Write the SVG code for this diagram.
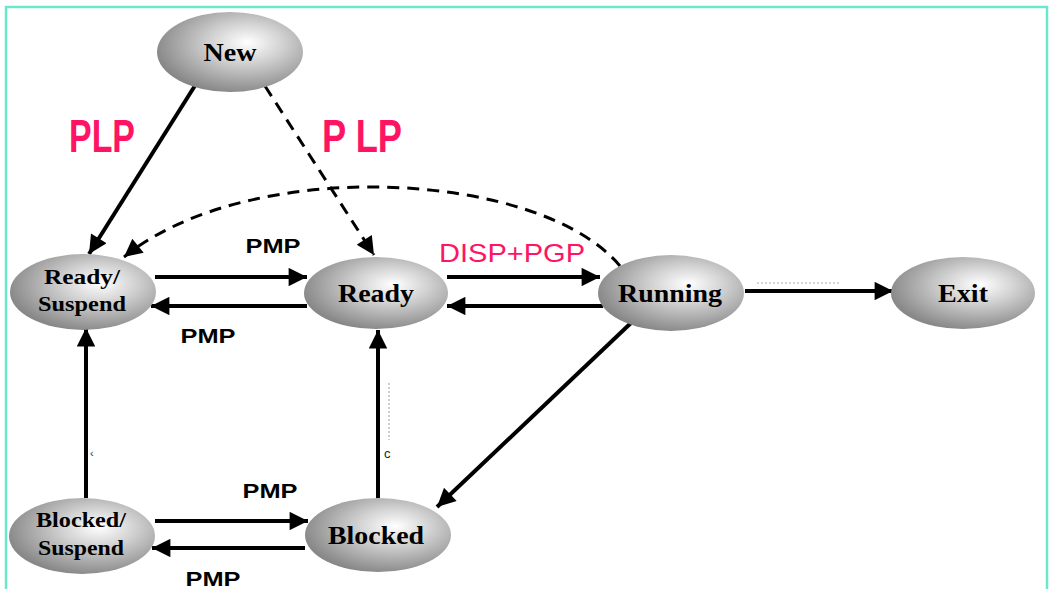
<svg xmlns="http://www.w3.org/2000/svg" width="1052" height="589" viewBox="0 0 1052 589">
<defs>
<radialGradient id="g" cx="0.6" cy="0.4" r="0.62" fx="0.62" fy="0.38">
<stop offset="0" stop-color="#ffffff"/>
<stop offset="0.4" stop-color="#d2d2d2"/>
<stop offset="1" stop-color="#888888"/>
</radialGradient>
<marker id="ah" viewBox="0 0 10 10" refX="10" refY="5" markerWidth="6.2" markerHeight="4.6" markerUnits="strokeWidth" orient="auto">
<path d="M0,0 L10,5 L0,10 Z" fill="#000"/>
</marker>
<marker id="ahd" viewBox="0 0 10 10" refX="10" refY="5" markerWidth="8" markerHeight="6" markerUnits="strokeWidth" orient="auto">
<path d="M0,0 L10,5 L0,10 Z" fill="#000"/>
</marker>
</defs>
<style>
.n{fill:url(#g);stroke:none}
.t{font-family:"Liberation Serif",serif;font-weight:bold;fill:#000;text-anchor:middle}
.s{stroke:#000;stroke-width:4;fill:none;marker-end:url(#ah)}
.d{stroke:#000;stroke-width:3;fill:none;stroke-dasharray:12 8;marker-end:url(#ahd)}
.p{font-family:"Liberation Sans",Arial,sans-serif;font-weight:bold;font-size:20px;fill:#000;text-anchor:middle}
.pk{font-family:"Liberation Sans",Arial,sans-serif;fill:#ff1464;text-anchor:middle}
.f{stroke:#aaa;stroke-width:1.2;stroke-dasharray:2 2;fill:none}
</style>
<rect x="0" y="0" width="1052" height="589" fill="#fff"/>
<rect x="6" y="7" width="1041" height="600" fill="none" stroke="#6be8cc" stroke-width="2.5"/>

<g id="connectors">
<line class="s" x1="196" y1="84" x2="89" y2="254"/>
<line class="d" x1="265" y1="86" x2="374" y2="255"/>
<path class="d" d="M620,266 C540,170 250,155 124,257"/>
<line class="s" x1="155" y1="277" x2="307" y2="277"/>
<line class="s" x1="307" y1="306" x2="151" y2="306"/>
<line class="s" x1="447" y1="277" x2="600" y2="277"/>
<line class="s" x1="603" y1="306" x2="447" y2="306"/>
<line class="s" x1="745" y1="291" x2="893" y2="291"/>
<line class="f" x1="757" y1="283" x2="840" y2="283"/>
<line class="s" x1="632" y1="322" x2="437" y2="507"/>
<line class="s" x1="378" y1="498" x2="378" y2="330"/>
<line class="f" x1="389" y1="383" x2="389" y2="440"/>
<line class="s" x1="86" y1="498" x2="86" y2="328"/>
<line class="s" x1="155" y1="521" x2="308" y2="521"/>
<line class="s" x1="305" y1="548" x2="152" y2="548"/>
<text x="90" y="457" font-family="Liberation Sans,sans-serif" font-size="11" fill="#333">‹</text>
<text x="384" y="458" font-family="Liberation Sans,sans-serif" font-size="13" fill="#222">c</text>
<text class="p" x="273" y="253" textLength="55" lengthAdjust="spacingAndGlyphs">PMP</text>
<text class="p" x="208" y="343" textLength="55" lengthAdjust="spacingAndGlyphs">PMP</text>
<text class="p" x="270" y="498" textLength="55" lengthAdjust="spacingAndGlyphs">PMP</text>
<text class="p" x="213" y="586" textLength="55" lengthAdjust="spacingAndGlyphs">PMP</text>
<text class="pk" x="102" y="152" font-size="46" font-weight="bold" textLength="66" lengthAdjust="spacingAndGlyphs">PLP</text>
<text class="pk" x="362" y="152" font-size="46" font-weight="bold" textLength="80" lengthAdjust="spacingAndGlyphs">P LP</text>
<text class="pk" x="512" y="262" font-size="26" textLength="146" lengthAdjust="spacingAndGlyphs">DISP+PGP</text>
</g>

<g id="new"><ellipse class="n" cx="230" cy="52" rx="73" ry="40"/><text class="t" x="230" y="61" font-size="25" textLength="53" lengthAdjust="spacingAndGlyphs">New</text></g>
<g id="ready-suspend"><ellipse class="n" cx="83" cy="292" rx="73" ry="38"/><text class="t" x="82" y="284" font-size="21" textLength="76" lengthAdjust="spacingAndGlyphs">Ready/</text><text class="t" x="82" y="311" font-size="21" textLength="88" lengthAdjust="spacingAndGlyphs">Suspend</text></g>
<g id="ready"><ellipse class="n" cx="376" cy="293" rx="72" ry="36"/><text class="t" x="376" y="302" font-size="25" textLength="76" lengthAdjust="spacingAndGlyphs">Ready</text></g>
<g id="running"><ellipse class="n" cx="671" cy="293" rx="73" ry="38"/><text class="t" x="670" y="302" font-size="25" textLength="104" lengthAdjust="spacingAndGlyphs">Running</text></g>
<g id="exit"><ellipse class="n" cx="963" cy="293" rx="72" ry="36"/><text class="t" x="963" y="302" font-size="25" textLength="50" lengthAdjust="spacingAndGlyphs">Exit</text></g>
<g id="blocked-suspend"><ellipse class="n" cx="82" cy="536" rx="73" ry="38"/><text class="t" x="81" y="527" font-size="21" textLength="90" lengthAdjust="spacingAndGlyphs">Blocked/</text><text class="t" x="81" y="555" font-size="21" textLength="86" lengthAdjust="spacingAndGlyphs">Suspend</text></g>
<g id="blocked"><ellipse class="n" cx="378" cy="535" rx="73" ry="37"/><text class="t" x="376" y="544" font-size="25" textLength="96" lengthAdjust="spacingAndGlyphs">Blocked</text></g>
</svg>
